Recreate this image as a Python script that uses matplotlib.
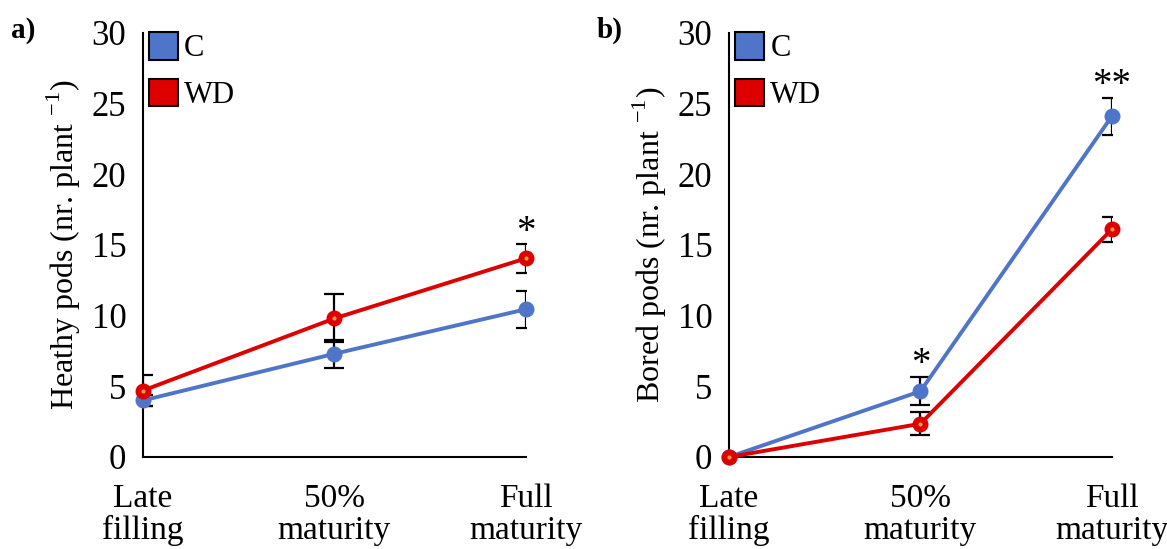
import matplotlib
matplotlib.use("Agg")
import matplotlib.pyplot as plt
from matplotlib.patches import Patch

plt.rcParams["font.family"] = ["Liberation Serif", "DejaVu Serif"]
plt.rcParams["mathtext.fontset"] = "custom"
plt.rcParams["mathtext.rm"] = "Liberation Serif"

# data
stages = ["Late\nfilling", "50%\nmaturity", "Full\nmaturity"]
x = [0, 1, 2]

healthy_c = [4.0, 7.3, 10.45]
healthy_c_err = [0.4, 1.0, 1.3]
healthy_wd = [4.7, 9.8, 14.05]
healthy_wd_err = [1.1, 1.7, 1.05]

bored_c = [0.0, 4.65, 24.1]
bored_c_err = [0.0, 1.0, 1.3]
bored_wd = [0.0, 2.35, 16.1]
bored_wd_err = [0.0, 0.8, 0.87]

# significance marks: (x, y, text)
healthy_stars = [(2, 14.6, "*")]
bored_stars = [(1, 5.2, "*"), (2, 25.0, "**")]

blue = "#4F75C8"
red = "#DE0000"

fig = plt.figure(figsize=(11.67, 5.49), dpi=100)
ax_a = fig.add_axes([0.1225, 0.1676, 0.328, 0.7724])
ax_b = fig.add_axes([0.6247, 0.1676, 0.328, 0.7724])


def draw_panel(ax, c, c_err, wd, wd_err, stars, ylabel):
    # error bars (clipped at the plot edges, like the original)
    ax.errorbar(x, c, yerr=c_err, fmt="none", ecolor="black",
                elinewidth=1.6, capsize=7, capthick=1.6, zorder=4)
    ax.errorbar(x, wd, yerr=wd_err, fmt="none", ecolor="black",
                elinewidth=1.6, capsize=7, capthick=1.6, zorder=4)

    ax.plot(x, c, color=blue, linewidth=2.8, marker="o", markersize=10.5,
            markerfacecolor=blue, markeredgecolor=blue, clip_on=False, zorder=5)
    ax.plot(x, wd, color=red, linewidth=2.8, marker="o", markersize=10.5,
            markerfacecolor=red, markeredgecolor=red, clip_on=False, zorder=6)
    # small orange dot in the centre of the WD markers
    ax.plot(x, wd, linestyle="none", marker="o", markersize=3,
            markerfacecolor="#E0A040", markeredgewidth=0, clip_on=False, zorder=7)

    for sx, sy, s in stars:
        ax.text(sx, sy, s, ha="center", va="bottom", fontsize=28)

    ax.set_xlim(0, 2)
    ax.set_ylim(0, 30)
    ax.set_yticks([0, 5, 10, 15, 20, 25, 30])
    ax.set_xticks(x)
    ax.set_xticklabels(stages, fontsize=24, linespacing=1.05)
    ax.tick_params(axis="y", length=0, pad=12, labelsize=25)
    ax.tick_params(axis="x", length=0, pad=19)
    ax.spines["top"].set_visible(False)
    ax.spines["right"].set_visible(False)
    ax.spines["left"].set_linewidth(1.5)
    ax.spines["bottom"].set_linewidth(1.5)
    ax.set_ylabel(ylabel, fontsize=23, labelpad=6)

    handles = [Patch(facecolor=blue, edgecolor="black", linewidth=1.5, label="C"),
               Patch(facecolor=red, edgecolor="black", linewidth=1.5, label="WD")]
    ax.legend(handles=handles, loc="upper left", bbox_to_anchor=(0.0, 1.016),
              frameon=False, fontsize=22, handlelength=0.95, handleheight=1.0,
              handletextpad=0.2, labelspacing=0.5, borderaxespad=0.1,
              borderpad=0.1)


draw_panel(ax_a, healthy_c, healthy_c_err, healthy_wd, healthy_wd_err,
           healthy_stars, "Heathy pods (nr. plant $^{\\mathregular{-1}}$)")
draw_panel(ax_b, bored_c, bored_c_err, bored_wd, bored_wd_err,
           bored_stars, "Bored pods (nr. plant $^{\\mathregular{-1}}$)")

fig.text(0.009, 0.945, "a)", fontsize=21, fontweight="bold", va="center")
fig.text(0.511, 0.945, "b)", fontsize=21, fontweight="bold", va="center")

fig.savefig("out.png", dpi=100)
